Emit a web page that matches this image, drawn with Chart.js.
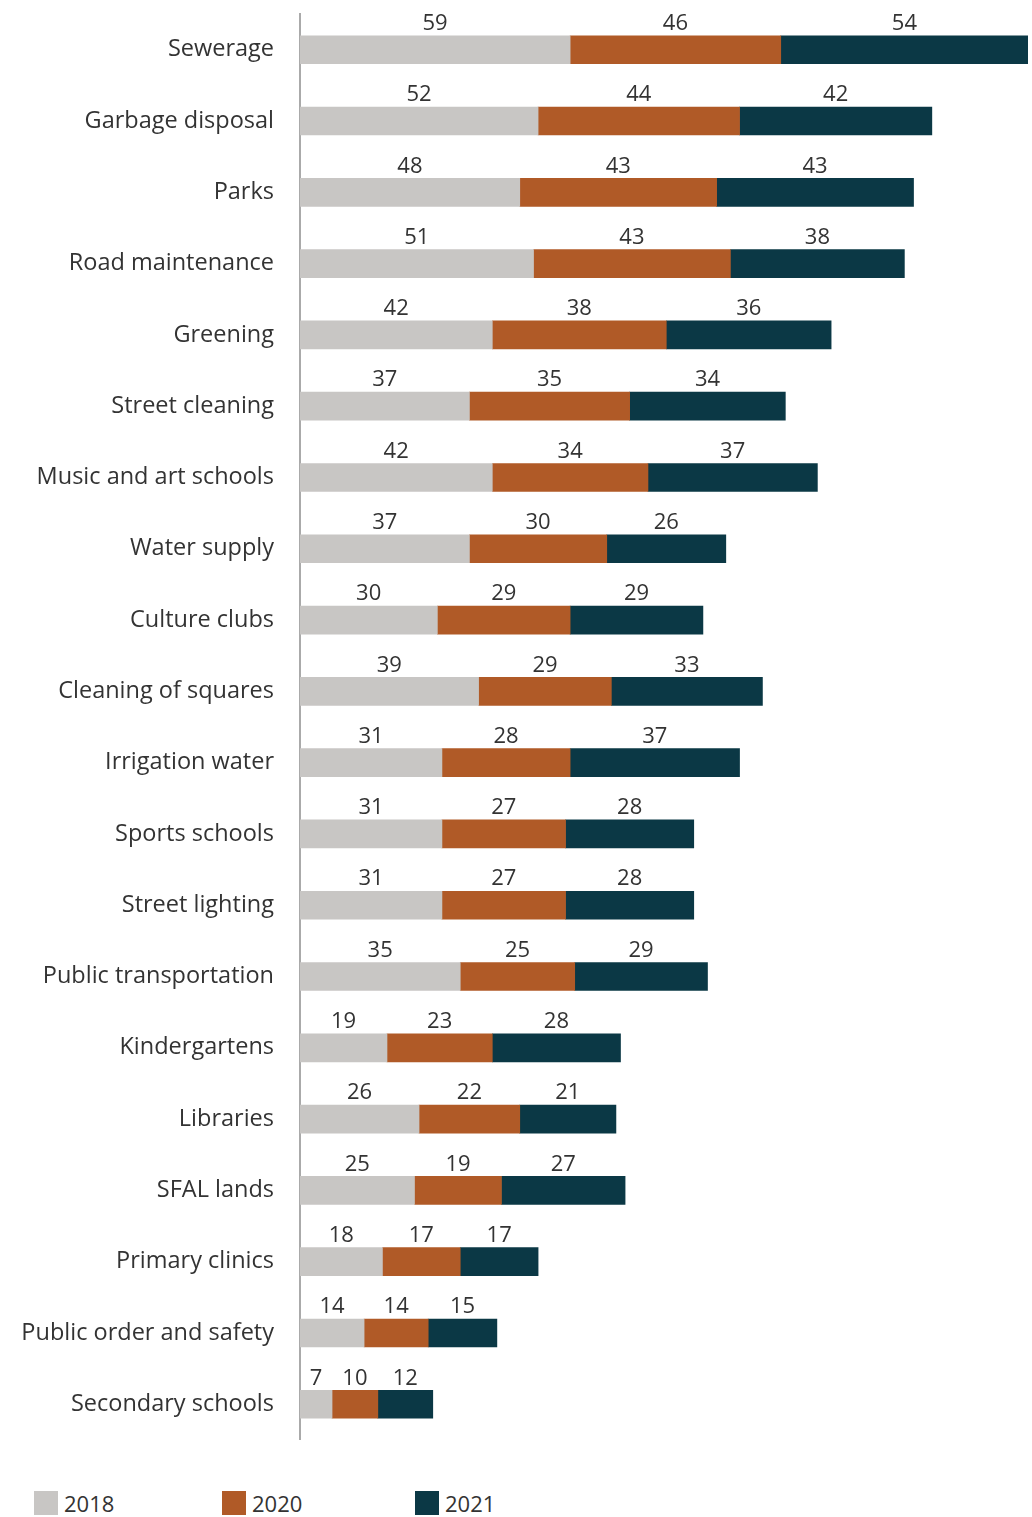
<!DOCTYPE html>
<html>
<head>
<meta charset="utf-8">
<script src="https://cdn.jsdelivr.net/npm/chart.js@4"></script>
<style>
  body { margin: 0; background: #fff; font-family: "Open Sans", sans-serif; }
  .wrap { position: relative; width: 1032px; height: 1506px; margin-top: -26px; }
  .legend { position: absolute; top: 1490px; left: 0; width: 1032px; height: 27px; font-size: 22px; color: #333; }
  .legend span { position: absolute; top: 0; display: flex; align-items: center; line-height: 26px; }
  .legend i { display: inline-block; width: 24px; height: 24px; margin-right: 6px; }
</style>
</head>
<body>
<div class="wrap"><canvas id="chart"></canvas></div>
<div class="legend" id="legend"></div>
<script>
const categories = ['Sewerage', 'Garbage disposal', 'Parks', 'Road maintenance', 'Greening', 'Street cleaning',
  'Music and art schools', 'Water supply', 'Culture clubs', 'Cleaning of squares', 'Irrigation water',
  'Sports schools', 'Street lighting', 'Public transportation', 'Kindergartens', 'Libraries', 'SFAL lands',
  'Primary clinics', 'Public order and safety', 'Secondary schools']
const values2018 = [59, 52, 48, 51, 42, 37, 42, 37, 30, 39, 31, 31, 31, 35, 19, 26, 25, 18, 14, 7]
const values2020 = [46, 44, 43, 43, 38, 35, 34, 30, 29, 29, 28, 27, 27, 25, 23, 22, 19, 17, 14, 10]
const values2021 = [54, 42, 43, 38, 36, 34, 37, 26, 29, 33, 37, 28, 28, 29, 28, 21, 27, 17, 15, 12]
const seriesNames = ['2018', '2020', '2021']
const colors = ['#c8c6c4', '#b05a27', '#0b3845']

// numbers above each segment
const valueLabels = {
  id: 'valueLabels',
  afterDatasetsDraw(chart) {
    const ctx = chart.ctx
    ctx.save()
    ctx.font = '22px "Open Sans", sans-serif'
    ctx.fillStyle = '#333'
    ctx.textAlign = 'center'
    ctx.textBaseline = 'bottom'
    chart.data.datasets.forEach((ds, i) => {
      chart.getDatasetMeta(i).data.forEach((bar, j) => {
        const left = Math.min(bar.x, bar.base)
        const cx = left + Math.abs(bar.x - bar.base) / 2
        ctx.fillText(ds.data[j], cx, bar.y - bar.height / 2 - 1)
      })
    })
    ctx.restore()
  }
}

const chart = new Chart(document.getElementById('chart'), {
  type: 'bar',
  data: {
    labels: categories,
    datasets: [values2018, values2020, values2021].map((d, i) => ({
      label: seriesNames[i],
      data: d,
      backgroundColor: colors[i],
      borderWidth: 0,
      barThickness: 28
    }))
  },
  options: {
    indexAxis: 'y',
    responsive: true,
    maintainAspectRatio: false,
    animation: false,
    layout: { padding: { top: 10, right: 4, bottom: 22, left: 0 } },
    plugins: { legend: { display: false }, tooltip: { enabled: false } },
    scales: {
      x: {
        stacked: true,
        min: 0,
        max: 159,
        display: false
      },
      y: {
        stacked: true,
        grid: { display: false, drawTicks: false },
        border: { display: true, color: '#aaa', width: 2 },
        ticks: { color: '#333', font: { family: 'Open Sans', size: 23.5 }, padding: 26 },
        afterFit(scale) { scale.width = 300 }
      }
    }
  },
  plugins: [valueLabels]
})

const legend = document.getElementById('legend')
const legendX = [34, 222, 415]
seriesNames.forEach((name, i) => {
  const s = document.createElement('span')
  s.style.left = legendX[i] + 'px'
  s.innerHTML = '<i style="background:' + colors[i] + '"></i>' + name
  legend.appendChild(s)
})
</script>
</body>
</html>
